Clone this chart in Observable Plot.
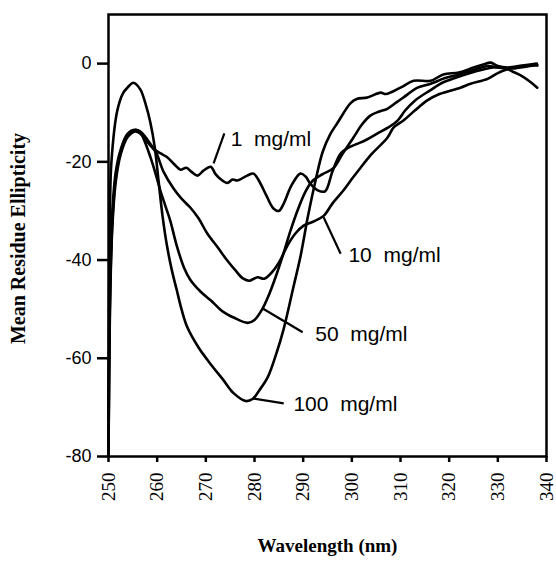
<!DOCTYPE html>
<html>
<head>
<meta charset="utf-8">
<script src="https://cdn.jsdelivr.net/npm/d3@7"></script>
<script src="https://cdn.jsdelivr.net/npm/@observablehq/plot@0.6"></script>
<style>
  html, body { margin: 0; padding: 0; background: #fff; }
  #chart svg { display: block; }
</style>
</head>
<body>
<div id="chart"></div>
<script>
// ---- Data ----
const seriesNames = ["1  mg/ml", "10  mg/ml", "50  mg/ml", "100  mg/ml"];

const wl1 = [250,250.3,250.8,251.5,252.5,253.9,255.5,256.5,258,259.5,260.7,262,263.5,264.8,266,267,268.3,269.5,271,272,273,274.4,275.5,276.5,278.5,279.8,281,282.5,283.9,285,286,287.5,289.4,290.5,291.5,293,294.5,296,297.7,299.5,301.2,303,305.3,307.5,309.4,311,313,316,318.8,321,324,327,329,331.2,333,334.7,336.5,338.1];
const ell1 = [-78,-48,-32,-23,-18,-14.6,-13.5,-13.8,-15.5,-17.5,-18.3,-19,-20.5,-21.6,-21.2,-22,-22.8,-21.8,-21,-22.5,-23.5,-24.3,-23.6,-23.8,-22.8,-22.4,-24,-27,-29.5,-30,-28.5,-25,-22.4,-23,-24.5,-25.8,-26,-22,-18.3,-17,-16.3,-15.5,-14.2,-13,-11.6,-9.5,-7.5,-5.5,-3.8,-3,-2,-1.2,-0.8,-0.8,-1.6,-2.4,-3.6,-4.9];

const wl10 = [250,250.3,250.8,251.5,252.5,253.9,255.5,256.5,258,259.7,261.3,263.4,265,266.8,268.5,270.3,272.5,274.4,276,277.7,279,280.6,282,283.9,285.3,286.8,288.4,290.1,292,294.2,296,298.3,300,301.8,304,307.3,308.6,310.6,313,315.5,318,322.3,324.4,327.9,329.9,331.2,333.2,336.1,338.1];
const ell10 = [-80,-50,-33,-24,-18.5,-15,-13.8,-14.2,-16,-18,-22,-25.5,-27.5,-29.3,-31.5,-34.6,-37.5,-40.1,-42,-43.8,-44.2,-43.5,-43.8,-42.1,-40,-37,-34.6,-33,-32.2,-31,-28.5,-25.8,-23.5,-21.2,-18.5,-15.1,-13,-11.6,-9.5,-7.5,-6.2,-4.9,-4.1,-3.1,-2,-1.4,-0.8,-0.4,-0.4];

const wl50 = [250,250.3,250.8,251.5,252.5,253.9,255.5,256.5,257.5,258.6,259.7,260.7,261.7,262.7,264,265.5,266.8,269,271,273.5,275.7,278.6,280,281.6,283,284.5,286,287.4,289,290.5,292,294,296.2,298,300.3,302,303.8,305.5,307.3,309,310.6,313.5,316.2,319,322,325,328,330,333,336,338.1];
const ell50 = [-80,-46,-30,-22,-17.5,-14.3,-13.5,-14,-16,-19,-22.5,-26,-29,-32,-37,-41.5,-44,-46.5,-48.2,-50.5,-51.7,-52.8,-52.2,-50,-47,-43,-38.5,-34,-29.5,-26,-23.8,-22.5,-21.3,-18.5,-15.1,-12.5,-10.6,-9.8,-9.2,-8,-6.9,-4.9,-4.1,-3,-2.2,-1.3,-0.5,-0.8,-1,-0.6,-0.2];

const wl100 = [250,250.3,250.6,251.8,253,253.9,255.1,256.5,257.7,258.6,259.5,260.3,261.1,262,263,264,265,266.2,268.5,271,273.5,275.7,278.2,279.6,281,282.7,284.5,286,288,289.5,291,292.5,294,295.5,297.1,299.7,301,303.2,305.9,307,310,312.7,316.2,318.8,322,325,327,328.5,330,332,335,338];
const ell100 = [-72,-30,-20,-9.6,-6,-4.9,-3.9,-5.2,-8.5,-12,-17,-24,-31,-37,-42,-46,-50,-53.7,-57.8,-61.2,-64.3,-67.1,-68.7,-68.3,-66.5,-63.9,-59,-54,-45.5,-39,-31,-24,-18,-14.5,-12,-8.1,-7.2,-6.9,-5.9,-6.2,-4.9,-3.5,-3.5,-2.2,-1.8,-0.8,-0.2,0.2,-0.5,-0.8,-0.4,0];

// axis ticks
const xTicks = [250,260,270,280,290,300,310,320,330,340];
const yTicks = [-80,-60,-40,-20,0];

// curve labels (text, anchor point) and leader lines (from curve to label)
const labelX = [275.1, 299.3, 292.5, 288.0];
const labelY = [-15.4, -39.1, -55.1, -69.4];
const leaderX1 = [271.6, 294.2, 281.6, 279.8];
const leaderY1 = [-20.3, -31.3, -49.8, -68.2];
const leaderX2 = [273.8, 297.7, 289.9, 286.0];
const leaderY2 = [-14.2, -38.7, -54.7, -69.2];

// ---- Build tables ----
const curves = [
  {name: seriesNames[0], wl: wl1, ell: ell1},
  {name: seriesNames[1], wl: wl10, ell: ell10},
  {name: seriesNames[2], wl: wl50, ell: ell50},
  {name: seriesNames[3], wl: wl100, ell: ell100}
].flatMap(c => c.wl.map((w, i) => ({series: c.name, wl: w, ell: c.ell[i]})));

const labels = seriesNames.map((n, i) => ({text: n, x: labelX[i], y: labelY[i]}));
const leaders = seriesNames.map((n, i) => ({x1: leaderX1[i], y1: leaderY1[i], x2: leaderX2[i], y2: leaderY2[i]}));

const sans = "'Liberation Sans', Arial, Helvetica, sans-serif";
const serif = "'Liberation Serif', 'Times New Roman', Times, serif";

const chart = Plot.plot({
  width: 556,
  height: 564,
  marginLeft: 108,
  marginRight: 10,
  marginTop: 14,
  marginBottom: 108,
  style: {background: "#fff", color: "#000"},
  x: {domain: [250, 340]},
  y: {domain: [-80, 10]},
  marks: [
    Plot.axisY({ticks: yTicks, tickSize: 11, tickPadding: 6, tickFormat: d => String(d),
      fontSize: 18, fontFamily: sans, strokeWidth: 2.5, label: null}),
    Plot.axisX({ticks: xTicks, tickSize: 6, tickPadding: 10, tickRotate: -90, tickFormat: d => String(d),
      fontSize: 19, fontFamily: serif, strokeWidth: 2.5, label: null}),
    Plot.frame({stroke: "#000", strokeWidth: 2.5}),
    Plot.line(curves, {x: "wl", y: "ell", z: "series", stroke: "#000", strokeWidth: 2.6, curve: "catmull-rom"}),
    Plot.link(leaders, {x1: "x1", y1: "y1", x2: "x2", y2: "y2", stroke: "#000", strokeWidth: 2.2}),
    Plot.text(labels, {x: "x", y: "y", text: "text", textAnchor: "start", lineAnchor: "middle",
      fontSize: 21, fontFamily: sans, fill: "#000"}),
    Plot.text(["Wavelength (nm)"], {frameAnchor: "bottom", dy: 89, textAnchor: "middle", lineAnchor: "middle",
      fontSize: 19, fontWeight: "bold", fontFamily: serif, fill: "#000"}),
    Plot.text(["Mean Residue Ellipticity"], {frameAnchor: "left", dx: -90, dy: 3, rotate: -90,
      textAnchor: "middle", lineAnchor: "middle",
      fontSize: 20, fontWeight: "bold", fontFamily: serif, fill: "#000"})
  ]
});
document.getElementById("chart").appendChild(chart);
</script>
</body>
</html>
